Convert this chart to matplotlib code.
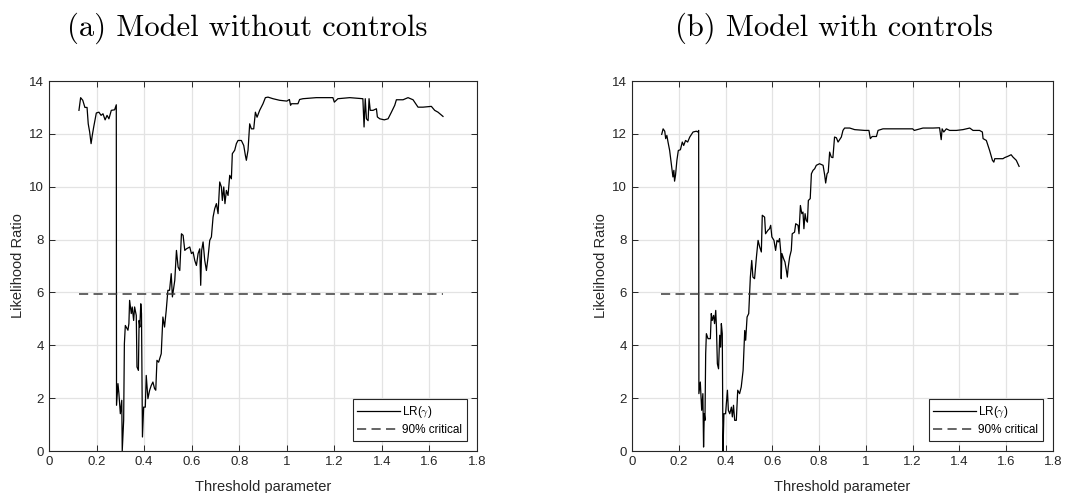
import matplotlib
matplotlib.use("Agg")
import matplotlib.pyplot as plt

# ---------------- data ----------------
critical_value = 5.93
crit_x_range = [0.126, 1.657]

x_a = [0.126, 0.133, 0.142, 0.151, 0.160, 0.165, 0.171, 0.177, 0.182, 0.188, 0.199, 0.210,
       0.219, 0.227, 0.236, 0.244, 0.252, 0.262, 0.276, 0.283, 0.284, 0.290, 0.294, 0.300,
       0.306, 0.308, 0.314, 0.317, 0.321, 0.332, 0.336, 0.339, 0.346, 0.350, 0.356, 0.360,
       0.367, 0.370, 0.376, 0.379, 0.382, 0.386, 0.389, 0.393, 0.398, 0.405, 0.409, 0.416,
       0.423, 0.430, 0.437, 0.444, 0.449, 0.454, 0.461, 0.472, 0.479, 0.486, 0.493, 0.500,
       0.507, 0.514, 0.519, 0.529, 0.536, 0.543, 0.550, 0.557, 0.564, 0.571, 0.578, 0.592,
       0.599, 0.606, 0.613, 0.620, 0.627, 0.634, 0.638, 0.642, 0.648, 0.655, 0.662, 0.669,
       0.676, 0.683, 0.690, 0.697, 0.704, 0.711, 0.718, 0.725, 0.729, 0.735, 0.740, 0.746,
       0.753, 0.760, 0.767, 0.771, 0.781, 0.788, 0.795, 0.809, 0.819, 0.826, 0.830, 0.837,
       0.844, 0.851, 0.861, 0.868, 0.875, 0.886, 0.900, 0.910, 0.921, 0.942, 0.970, 1.000,
       1.011, 1.016, 1.020, 1.027, 1.047, 1.054, 1.068, 1.124, 1.194, 1.200, 1.215, 1.265,
       1.320, 1.325, 1.330, 1.335, 1.342, 1.346, 1.351, 1.363, 1.377, 1.381, 1.391, 1.410,
       1.426, 1.440, 1.454, 1.461, 1.489, 1.510, 1.531, 1.552, 1.573, 1.608, 1.622, 1.636,
       1.657]
y_a = [12.89, 13.37, 13.27, 13.00, 13.00, 12.38, 12.07, 11.63, 11.94, 12.26, 12.79, 12.82,
       12.70, 12.76, 12.53, 12.70, 12.57, 12.89, 12.91, 13.10, 1.73, 2.55, 2.17, 1.41,
       1.92, 0.00, 1.16, 4.06, 4.75, 4.57, 4.82, 5.70, 5.20, 5.45, 4.94, 5.45,
       5.13, 3.18, 3.05, 4.94, 4.69, 5.57, 5.20, 0.53, 1.66, 1.66, 2.86, 1.98,
       2.29, 2.48, 2.61, 2.36, 2.30, 3.43, 3.36, 3.68, 5.07, 4.69, 5.32, 6.08,
       6.08, 6.71, 5.83, 6.46, 7.59, 6.96, 6.83, 8.22, 8.16, 7.59, 7.65, 7.72,
       7.47, 7.53, 7.21, 7.02, 7.47, 7.65, 6.27, 7.59, 7.91, 7.21, 6.83, 7.34,
       7.97, 8.10, 8.85, 9.17, 9.36, 8.98, 10.18, 9.99, 9.48, 9.99, 9.36, 9.86,
       9.67, 10.43, 10.30, 11.25, 11.38, 11.63, 11.75, 11.75, 11.56, 11.18, 11.00, 11.38,
       12.38, 12.19, 12.19, 12.82, 12.63, 12.89, 13.14, 13.37, 13.39, 13.33, 13.27, 13.24,
       13.30, 13.08, 13.14, 13.14, 13.14, 13.30, 13.33, 13.37, 13.37, 13.20, 13.33, 13.37,
       13.33, 12.26, 13.33, 12.57, 12.50, 13.33, 12.89, 12.89, 12.95, 12.64, 12.57, 12.53,
       12.57, 12.82, 13.08, 13.29, 13.29, 13.37, 13.29, 13.01, 13.01, 13.04, 12.89, 12.82,
       12.66]

x_b = [0.127, 0.133, 0.140, 0.144, 0.149, 0.154, 0.161, 0.168, 0.175, 0.179, 0.182, 0.186,
       0.192, 0.198, 0.207, 0.215, 0.221, 0.229, 0.238, 0.247, 0.261, 0.275, 0.282, 0.285,
       0.286, 0.292, 0.298, 0.303, 0.306, 0.309, 0.312, 0.315, 0.318, 0.325, 0.335, 0.339,
       0.343, 0.349, 0.353, 0.358, 0.361, 0.365, 0.370, 0.375, 0.379, 0.382, 0.386, 0.389,
       0.393, 0.400, 0.408, 0.412, 0.418, 0.425, 0.429, 0.434, 0.439, 0.446, 0.452, 0.460,
       0.467, 0.475, 0.482, 0.486, 0.492, 0.499, 0.503, 0.506, 0.512, 0.517, 0.524, 0.532,
       0.539, 0.546, 0.553, 0.557, 0.567, 0.571, 0.581, 0.588, 0.593, 0.598, 0.607, 0.614,
       0.620, 0.626, 0.631, 0.636, 0.638, 0.641, 0.648, 0.654, 0.660, 0.664, 0.668, 0.674,
       0.681, 0.685, 0.695, 0.700, 0.710, 0.714, 0.720, 0.726, 0.731, 0.735, 0.740, 0.745,
       0.750, 0.754, 0.762, 0.767, 0.774, 0.781, 0.788, 0.802, 0.817, 0.824, 0.828, 0.834,
       0.839, 0.845, 0.852, 0.859, 0.866, 0.874, 0.881, 0.895, 0.902, 0.909, 0.931, 0.952,
       0.995, 1.013, 1.019, 1.027, 1.045, 1.052, 1.073, 1.144, 1.200, 1.207, 1.244, 1.287,
       1.315, 1.322, 1.326, 1.333, 1.344, 1.358, 1.387, 1.415, 1.444, 1.458, 1.486, 1.498,
       1.501, 1.515, 1.529, 1.541, 1.547, 1.551, 1.586, 1.593, 1.607, 1.621, 1.629, 1.643,
       1.655]
y_b = [11.98, 12.19, 12.10, 11.82, 11.94, 11.69, 11.37, 10.87, 10.37, 10.62, 10.21, 10.43,
       11.00, 11.37, 11.40, 11.69, 11.56, 11.75, 11.69, 11.88, 12.07, 12.10, 12.07, 12.13,
       2.17, 2.61, 1.54, 2.17, 0.15, 1.41, 1.16, 3.68, 4.44, 4.25, 4.25, 5.20,
       4.94, 5.13, 4.82, 5.32, 4.69, 3.30, 3.11, 4.38, 3.93, 4.82, 4.44, 0.00,
       1.41, 1.41, 2.30, 1.54, 1.41, 1.66, 1.29, 1.73, 1.16, 1.16, 2.30, 2.17,
       2.42, 3.05, 4.56, 4.19, 5.07, 5.20, 5.95, 6.58, 7.21, 6.58, 6.52, 7.34,
       7.97, 7.72, 7.53, 8.92, 8.85, 8.22, 8.35, 8.41, 8.54, 8.10, 7.97, 7.59,
       7.97, 7.91, 8.04, 7.53, 6.52, 7.47, 7.28, 7.15, 6.83, 6.58, 6.96, 7.34,
       7.59, 8.22, 8.28, 8.60, 8.54, 8.22, 9.29, 8.98, 9.04, 8.41, 8.98, 8.73,
       8.66, 9.48, 9.55, 10.49, 10.62, 10.68, 10.81, 10.87, 10.81, 10.43, 10.14, 10.49,
       10.55, 11.31, 11.12, 11.10, 11.88, 11.85, 11.69, 11.88, 12.13, 12.22, 12.22, 12.16,
       12.13, 12.13, 11.82, 11.90, 11.90, 12.13, 12.19, 12.19, 12.19, 12.13, 12.22, 12.22,
       12.23, 11.78, 12.19, 12.07, 12.19, 12.13, 12.13, 12.16, 12.22, 12.13, 12.13, 12.07,
       11.82, 11.75, 11.37, 11.00, 10.93, 11.06, 11.06, 11.10, 11.15, 11.21, 11.12, 11.00,
       10.77]

titles = ["(a) Model without controls", "(b) Model with controls"]
xlabel = "Threshold parameter"
ylabel = "Likelihood Ratio"
legend_labels = [r"LR($\gamma$)", "90% critical"]
xticks = [0, 0.2, 0.4, 0.6, 0.8, 1.0, 1.2, 1.4, 1.6, 1.8]
xticklabels = ["0", "0.2", "0.4", "0.6", "0.8", "1", "1.2", "1.4", "1.6", "1.8"]
yticks = [0, 2, 4, 6, 8, 10, 12, 14]

# ---------------- plotting ----------------
plt.rcParams['font.family'] = ['Liberation Sans', 'DejaVu Sans']
plt.rcParams['mathtext.fontset'] = 'cm'

W, H = 1073, 493
fig = plt.figure(figsize=(W / 100, H / 100), dpi=100)

axes_px = [(49, 81, 477, 451), (632, 81, 1053, 451)]
title_x = [247, 834]
data = [(x_a, y_a), (x_b, y_b)]

for i in range(2):
    l, t, r, b = axes_px[i]
    ax = fig.add_axes([l / W, (H - b) / H, (r - l) / W, (b - t) / H])
    xs, ys = data[i]
    ax.plot(xs, ys, color='black', lw=0.9, label=legend_labels[0])
    ax.plot(crit_x_range, [critical_value, critical_value], color='#3a3a3a', lw=1.1,
            linestyle=(0, (6, 3.5)), label=legend_labels[1])
    ax.set_xlim(0, 1.8)
    ax.set_ylim(0, 14)
    ax.set_xticks(xticks)
    ax.set_xticklabels(xticklabels)
    ax.set_yticks(yticks)
    ax.grid(True, color='#e3e3e3', lw=0.9)
    ax.set_axisbelow(True)
    ax.tick_params(direction='in', top=True, right=True, labelsize=9.5,
                   colors='#262626', length=4, width=0.7)
    for s in ax.spines.values():
        s.set_color('#262626')
        s.set_linewidth(0.8)
    ax.set_xlabel(xlabel, fontsize=10.5, color='#262626', labelpad=9)
    ax.set_ylabel(ylabel, fontsize=10.5, color='#262626', labelpad=3)
    leg = ax.legend(loc='lower right', fontsize=8.5, frameon=True, fancybox=False,
                    edgecolor='#262626', framealpha=1, handlelength=3.6,
                    borderaxespad=0.85, handletextpad=0.2, labelspacing=0.35,
                    borderpad=0.4)
    leg.get_frame().set_linewidth(0.8)
    fig.text(title_x[i] / W, 1 - 28 / H, titles[i], ha='center', va='center',
             fontsize=22, family='cmr10')

fig.savefig('out.png', dpi=100)
